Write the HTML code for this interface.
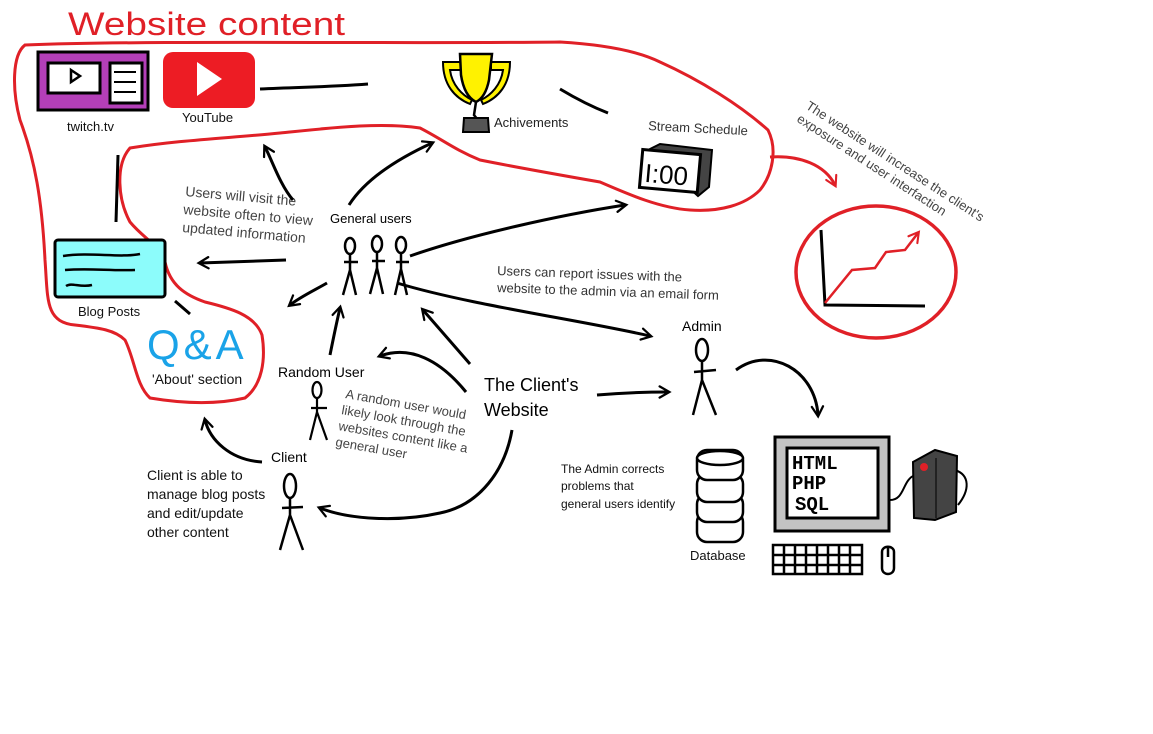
<!DOCTYPE html>
<html><head><meta charset="utf-8"><style>
html,body{margin:0;padding:0;background:#fff;}
svg{display:block;font-family:"Liberation Sans",sans-serif;}
</style></head><body>
<svg width="1153" height="734" viewBox="0 0 1153 734" xmlns="http://www.w3.org/2000/svg">
<defs>
<marker id="ah" viewBox="0 0 20 20" refX="14" refY="10" markerWidth="14" markerHeight="14" markerUnits="userSpaceOnUse" orient="auto"><path d="M2,2 L16,10 L2,18" fill="none" stroke="#000" stroke-width="3.2" stroke-linecap="round"/></marker>
<marker id="ahr" viewBox="0 0 20 20" refX="14" refY="10" markerWidth="14" markerHeight="14" markerUnits="userSpaceOnUse" orient="auto"><path d="M2,2 L16,10 L2,18" fill="none" stroke="#e02027" stroke-width="3" stroke-linecap="round"/></marker>
</defs>
<rect width="1153" height="734" fill="#fff"/>

<!-- title -->
<text x="68" y="35" font-size="32" fill="#e02027" textLength="277" lengthAdjust="spacingAndGlyphs">Website content</text>

<!-- red region outline -->
<path d="M25,45 C150,40 400,44 560,42 C610,45 640,52 660,62 C700,80 740,105 768,130 C778,150 772,175 760,190 C745,205 720,212 690,210 C660,208 630,195 600,182 C560,175 520,168 480,160 C455,150 440,138 420,128 C380,122 330,128 280,133 C230,138 180,140 130,148 C115,165 118,200 130,222 C145,240 160,245 165,262 C170,285 185,295 205,302 C230,308 255,315 262,335 C266,360 262,385 245,398 C215,405 180,403 150,398 C136,385 135,360 125,340 C115,330 100,328 75,325 C45,322 48,300 45,260 C42,200 35,160 20,120 C12,90 12,55 25,45 Z" fill="none" stroke="#e02027" stroke-width="3"/>

<!-- twitch -->
<rect x="38" y="52" width="110" height="58" fill="#b43fb8" stroke="#000" stroke-width="3"/>
<rect x="48" y="63" width="52" height="30" fill="#fff" stroke="#000" stroke-width="3"/>
<path d="M71,70 L80,76 L71,82 Z" fill="none" stroke="#000" stroke-width="2.5"/>
<rect x="110" y="63" width="32" height="40" fill="#fff" stroke="#000" stroke-width="3"/>
<path d="M114,72 h22 M114,82 h22 M114,92 h22" stroke="#000" stroke-width="2"/>
<text x="67" y="131" font-size="13" fill="#111">twitch.tv</text>

<!-- youtube -->
<rect x="163" y="52" width="92" height="56" rx="10" fill="#ed1c24"/>
<path d="M197,62 L222,79 L197,96 Z" fill="#fff"/>
<text x="182" y="122" font-size="13" fill="#111">YouTube</text>

<path d="M260,89 C300,87 330,87 368,84" stroke="#000" stroke-width="3" fill="none"/>

<!-- trophy -->
<path d="M443,62 L462,62 L462,70 L450,70 C452,85 462,95 472,100 L470,104 C455,98 443,85 443,62 Z" fill="#fff200" stroke="#000" stroke-width="2"/>
<path d="M510,62 L491,62 L491,70 L503,70 C501,85 491,95 481,100 L483,104 C498,98 510,85 510,62 Z" fill="#fff200" stroke="#000" stroke-width="2"/>
<path d="M460,54 L492,54 L489,80 C486,95 480,100 476,102 C468,98 463,88 461,75 Z" fill="#fff200" stroke="#000" stroke-width="2.5"/>
<path d="M476,102 L474,115 L478,120" stroke="#000" stroke-width="2.5" fill="none"/>
<path d="M464,118 L488,118 L489,132 L463,132 Z" fill="#555" stroke="#000" stroke-width="2"/>
<text x="494" y="127" font-size="13" fill="#222">Achivements</text>

<path d="M560,89 C575,98 590,106 608,113" stroke="#000" stroke-width="3" fill="none"/>

<!-- stream schedule -->
<text x="648" y="130" font-size="13" fill="#333" transform="rotate(3 648 130)">Stream Schedule</text>
<path d="M648,150 L660,144 L712,150 L709,187 L698,196 Z" fill="#444" stroke="#000" stroke-width="2"/>
<rect x="641" y="152" width="58" height="38" fill="#fff" stroke="#000" stroke-width="3" transform="rotate(5 670 171)"/>
<text x="645" y="184" font-size="26" fill="#000" transform="rotate(5 670 171)">I:00</text>

<!-- blog posts -->
<path d="M118,155 L116,222" stroke="#000" stroke-width="3"/>
<rect x="55" y="240" width="110" height="57" rx="3" fill="#8cfcfb" stroke="#000" stroke-width="3"/>
<path d="M63,256 C90,252 120,258 140,254 M65,270 C90,268 110,271 135,270 M66,286 C72,282 80,288 92,285" stroke="#000" stroke-width="2.5" fill="none"/>
<text x="78" y="316" font-size="13" fill="#111">Blog Posts</text>
<path d="M175,301 L190,314" stroke="#000" stroke-width="3"/>

<!-- Q&A -->
<text x="147" y="359" font-size="42" fill="#1aa3e8" letter-spacing="4">Q&amp;A</text>
<text x="152" y="384" font-size="14" fill="#111">'About' section</text>

<!-- general users -->
<text x="185" y="196" font-size="14" fill="#444" transform="rotate(5 185 196)">Users will visit the</text>
<text x="183" y="214" font-size="14" fill="#444" transform="rotate(5 183 214)">website often to view</text>
<text x="182" y="232" font-size="14" fill="#444" transform="rotate(5 182 232)">updated information</text>
<text x="330" y="223" font-size="13" fill="#000">General users</text>
<g stroke="#000" stroke-width="2.5" fill="none">
<ellipse cx="350" cy="246" rx="5" ry="8"/><path d="M350,254 L350,270 L343,295 M350,270 L356,295 M344,262 L358,262"/>
<ellipse cx="377" cy="244" rx="5" ry="8"/><path d="M377,252 L377,268 L370,294 M377,268 L383,294 M372,261 L385,261"/>
<ellipse cx="401" cy="245" rx="5" ry="8"/><path d="M401,253 L401,269 L395,295 M401,269 L407,295 M396,262 L409,262"/>
</g>

<!-- arrows -->
<g stroke="#000" stroke-width="3" fill="none" marker-end="url(#ah)">
<path d="M293,200 C280,185 272,160 265,147"/>
<path d="M349,205 C365,180 395,160 432,143"/>
<path d="M286,260 C260,261 230,262 200,263"/>
<path d="M327,283 C315,290 300,297 290,305"/>
<path d="M410,256 C470,235 560,215 625,205"/>
<path d="M397,283 C470,305 580,320 650,336"/>
<path d="M330,355 C333,340 336,325 340,308"/>
<path d="M470,364 L423,310"/>
<path d="M466,392 C440,360 410,345 380,356"/>
<path d="M597,395 C620,393 645,392 668,392"/>
<path d="M512,430 C505,470 480,505 440,513 C400,522 350,520 320,508"/>
<path d="M262,462 C230,460 210,440 205,420"/>
<path d="M736,370 C770,345 815,370 818,415"/>
</g>
<path d="M770,157 C800,155 825,165 835,185" stroke="#e02027" stroke-width="3" fill="none" marker-end="url(#ahr)"/>

<text x="497" y="275" font-size="13" fill="#333" transform="rotate(2 497 275)">Users can report issues with the</text>
<text x="497" y="292" font-size="13" fill="#333" transform="rotate(2 497 292)">website to the admin via an email form</text>

<!-- admin -->
<text x="682" y="331" font-size="14" fill="#000">Admin</text>
<g stroke="#000" stroke-width="2.5" fill="none">
<ellipse cx="702" cy="350" rx="6" ry="11"/><path d="M702,361 L702,380 L693,415 M702,380 L716,415 M694,372 L716,370"/>
</g>

<!-- random user -->
<text x="278" y="377" font-size="14" fill="#000">Random User</text>
<g stroke="#000" stroke-width="2.2" fill="none">
<ellipse cx="317" cy="390" rx="4.5" ry="8"/><path d="M317,398 L317,412 L310,440 M317,412 L327,440 M311,408 L327,408"/>
</g>
<g font-size="13" fill="#444">
<text x="345" y="398" transform="rotate(10 345 398)">A random user would</text>
<text x="341" y="414" transform="rotate(10 341 414)">likely look through the</text>
<text x="338" y="430" transform="rotate(10 338 430)">websites content like a</text>
<text x="335" y="446" transform="rotate(10 335 446)">general user</text>
</g>

<text x="484" y="391" font-size="18" fill="#000">The Client's</text>
<text x="484" y="416" font-size="18" fill="#000">Website</text>

<!-- client -->
<text x="271" y="462" font-size="14" fill="#000">Client</text>
<g stroke="#000" stroke-width="2.5" fill="none">
<ellipse cx="290" cy="486" rx="6" ry="12"/><path d="M290,498 L290,515 L280,550 M290,515 L303,550 M282,508 L303,507"/>
</g>
<g font-size="14" fill="#111">
<text x="147" y="480">Client is able to</text>
<text x="147" y="499">manage blog posts</text>
<text x="147" y="518">and edit/update</text>
<text x="147" y="537">other content</text>
</g>

<!-- admin note -->
<g font-size="12" fill="#111">
<text x="561" y="473">The Admin corrects</text>
<text x="561" y="490">problems that</text>
<text x="561" y="508">general users identify</text>
</g>

<!-- database -->
<g stroke="#000" stroke-width="2.5" fill="#fff">
<rect x="697" y="512" width="46" height="30" rx="10"/>
<rect x="697" y="494" width="46" height="28" rx="10"/>
<rect x="697" y="474" width="46" height="28" rx="10"/>
<rect x="697" y="450" width="46" height="30" rx="10"/>
<ellipse cx="720" cy="458" rx="23" ry="7"/>
</g>
<text x="690" y="560" font-size="13" fill="#111">Database</text>

<!-- computer -->
<rect x="775" y="437" width="114" height="94" fill="#c3c3c3" stroke="#000" stroke-width="3"/>
<rect x="787" y="448" width="91" height="70" fill="#fff" stroke="#000" stroke-width="3"/>
<g font-size="19" fill="#000" font-family="Liberation Mono,monospace" font-weight="bold">
<text x="792" y="469">HTML</text><text x="792" y="489">PHP</text><text x="795" y="510">SQL</text>
</g>
<path d="M890,500 C905,500 902,480 915,475 M955,470 C970,475 970,490 958,505" stroke="#000" stroke-width="2" fill="none"/>
<path d="M913,462 L935,450 L957,456 L956,512 L935,520 L914,518 Z" fill="#444" stroke="#000" stroke-width="2"/>
<path d="M936,458 L936,518" stroke="#222" stroke-width="2"/>
<circle cx="924" cy="467" r="4" fill="#e02027"/>
<g stroke="#000" stroke-width="2.5" fill="none">
<rect x="773" y="545" width="89" height="29"/>
<path d="M773,555 h89 M773,565 h89 M784,545 v29 M795,545 v29 M806,545 v29 M817,545 v29 M828,545 v29 M839,545 v29 M850,545 v29"/>
<path d="M882,552 C882,545 894,545 894,552 L894,568 C894,576 882,576 882,568 Z M888,547 v10"/>
</g>

<!-- chart -->
<ellipse cx="876" cy="272" rx="80" ry="66" fill="none" stroke="#e02027" stroke-width="3.5"/>
<path d="M821,230 L825,305 L925,306" stroke="#000" stroke-width="3" fill="none"/>
<path d="M825,303 L852,270 L875,268 L886,252 L905,250 L918,233" stroke="#e02027" stroke-width="2.5" fill="none" marker-end="url(#ahr)"/>
<g font-size="13" fill="#444">
<text x="805" y="108" transform="rotate(33 805 108)">The website will increase the client's</text>
<text x="796" y="121" transform="rotate(33 796 121)">exposure and user interfaction</text>
</g>
</svg>
</body></html>
